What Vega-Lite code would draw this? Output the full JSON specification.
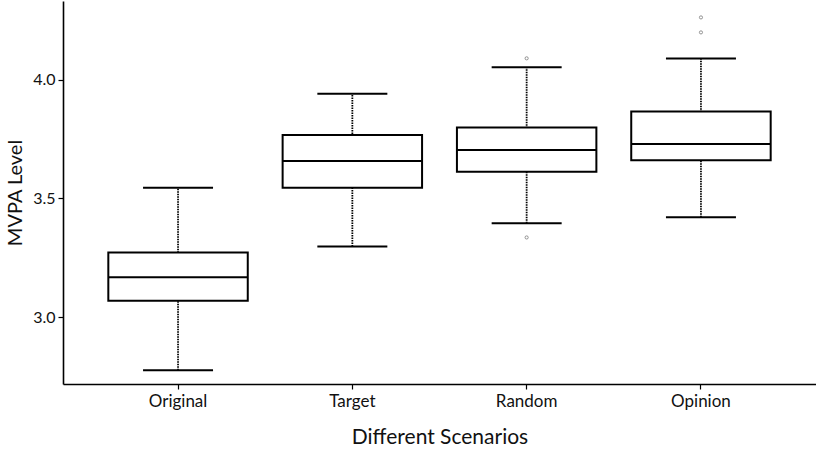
{
  "$schema": "https://vega.github.io/schema/vega-lite/v6.json",
  "width": 753,
  "height": 383,
  "autosize": "none",
  "padding": {"left": 63, "top": 1, "right": 0, "bottom": 72},
  "background": "white",
  "config": {
    "view": {"stroke": null},
    "font": "Lato",
    "axis": {
      "domainColor": "black",
      "domainWidth": 1.6,
      "tickColor": "black",
      "tickWidth": 1.2,
      "tickSize": 5,
      "labelColor": "#111",
      "labelFont": "Lato",
      "titleFont": "Lato",
      "titleFontWeight": "normal",
      "titleColor": "#111",
      "grid": false
    }
  },
  "datasets": {
    "boxes": [
      {"scenario": "Original", "lower": 2.778, "q1": 3.070, "median": 3.169, "q3": 3.273, "upper": 3.545},
      {"scenario": "Target", "lower": 3.298, "q1": 3.545, "median": 3.657, "q3": 3.767, "upper": 3.940},
      {"scenario": "Random", "lower": 3.396, "q1": 3.612, "median": 3.704, "q3": 3.798, "upper": 4.051},
      {"scenario": "Opinion", "lower": 3.421, "q1": 3.661, "median": 3.729, "q3": 3.866, "upper": 4.088}
    ],
    "outliers": [
      {"scenario": "Random", "value": 4.089},
      {"scenario": "Random", "value": 3.336},
      {"scenario": "Opinion", "value": 4.261},
      {"scenario": "Opinion", "value": 4.198}
    ]
  },
  "encoding": {
    "x": {
      "field": "scenario",
      "type": "nominal",
      "sort": ["Original", "Target", "Random", "Opinion"],
      "scale": {"paddingInner": 0.2, "paddingOuter": 0.26},
      "axis": {"labelAngle": 0, "title": "Different Scenarios", "labelPadding": 4, "titlePadding": 17, "labelFontSize": 17, "titleFontSize": 21}
    }
  },
  "layer": [
    {
      "data": {"name": "boxes"},
      "mark": {"type": "rule", "color": "black", "strokeWidth": 1.8, "strokeDash": [1.5, 1]},
      "encoding": {
        "y": {"field": "lower", "type": "quantitative", "title": "MVPA Level",
          "scale": {"domain": [2.72, 4.33], "nice": false, "zero": false},
          "axis": {"values": [3.0, 3.5, 4.0], "format": ".1f", "labelPadding": 3, "titlePadding": 7, "labelFontSize": 16, "titleFontSize": 20}},
        "y2": {"field": "upper"}
      }
    },
    {
      "data": {"name": "boxes"},
      "mark": {"type": "bar", "fill": "white", "stroke": "black", "strokeWidth": 2},
      "encoding": {
        "y": {"field": "q1", "type": "quantitative", "title": "MVPA Level"},
        "y2": {"field": "q3"}
      }
    },
    {
      "data": {"name": "boxes"},
      "mark": {"type": "tick", "color": "black", "opacity": 1, "size": 139, "thickness": 2},
      "encoding": {
        "y": {"field": "median", "type": "quantitative", "title": "MVPA Level"}
      }
    },
    {
      "data": {"name": "boxes"},
      "mark": {"type": "tick", "color": "black", "opacity": 1, "size": 70, "thickness": 2},
      "encoding": {
        "y": {"field": "upper", "type": "quantitative", "title": "MVPA Level"}
      }
    },
    {
      "data": {"name": "boxes"},
      "mark": {"type": "tick", "color": "black", "opacity": 1, "size": 70, "thickness": 2},
      "encoding": {
        "y": {"field": "lower", "type": "quantitative", "title": "MVPA Level"}
      }
    },
    {
      "data": {"name": "outliers"},
      "mark": {"type": "point", "shape": "circle", "filled": false, "stroke": "#444", "strokeWidth": 0.8, "size": 10},
      "encoding": {
        "y": {"field": "value", "type": "quantitative", "title": "MVPA Level"}
      }
    }
  ]
}
